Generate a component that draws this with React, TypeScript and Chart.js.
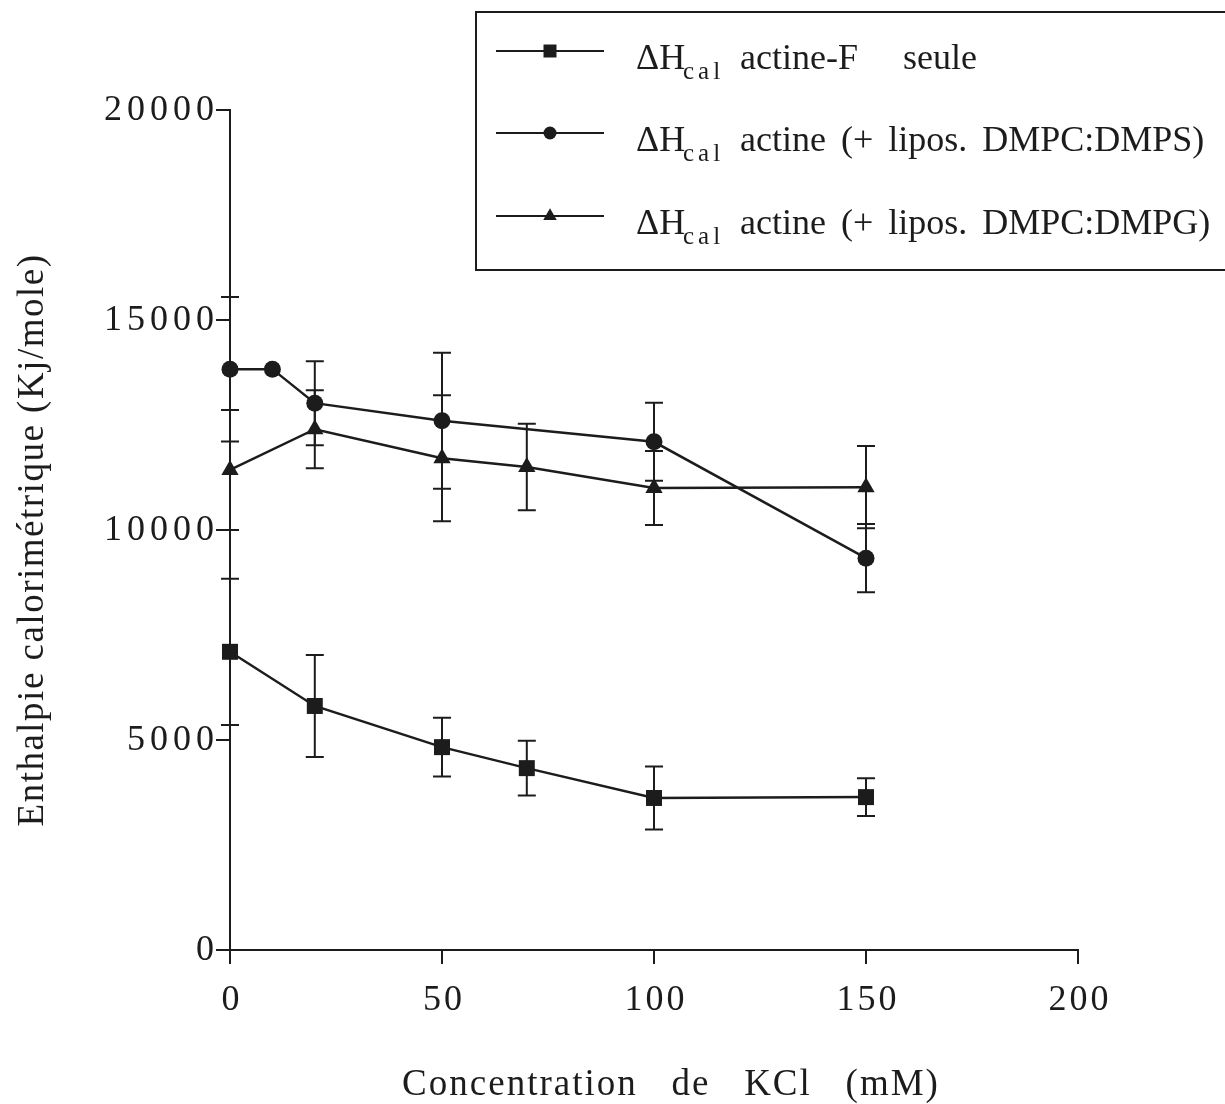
import React, { useEffect, useRef } from 'react';
import { Chart, registerables } from 'chart.js';

Chart.register(...registerables);

const FONT = '"Liberation Serif", "Times New Roman", Times, serif';
const INK = '#1c1c1c';

// Axis ticks
const xTickValues = [0, 50, 100, 150, 200];
const yTickValues = [0, 5000, 10000, 15000, 20000];

// Series: ΔHcal actine-F seule (squares)
const xSquare = [0, 20, 50, 70, 100, 150];
const ySquare = [7100, 5810, 4830, 4330, 3620, 3640];
const errSquare = [1740, 1215, 700, 650, 750, 450];

// Series: ΔHcal actine (+ lipos. DMPC:DMPS) (circles)
const xCircle = [0, 10, 20, 50, 100, 150];
const yCircle = [13830, 13830, 13020, 12600, 12100, 9330];
const errCircle = [1720, 0, 1000, 1620, 930, 810];

// Series: ΔHcal actine (+ lipos. DMPC:DMPG) (triangles)
const xTriangle = [0, 20, 50, 70, 100, 150];
const yTriangle = [11430, 12400, 11710, 11500, 11000, 11020];
const errTriangle = [1430, 930, 1500, 1030, 880, 980];

const legendMain = ['\u0394H', '\u0394H', '\u0394H'];
const legendSub = ['cal', 'cal', 'cal'];
const legendText = ['actine-F   seule', 'actine (+ lipos. DMPC:DMPS)', 'actine (+ lipos. DMPC:DMPG)'];
const legendStyles = ['rect', 'circle', 'triangle'];

const xTitle = 'Concentration   de   KCl   (mM)';
const yTitle = 'Enthalpie calorimétrique (Kj/mole)';

const toPoints = (xs: number[], ys: number[], es: number[]) =>
  xs.map((x, i) => ({ x, y: ys[i], err: es[i] }));

function drawMarker(ctx: CanvasRenderingContext2D, style: string, x: number, y: number, s: number) {
  ctx.beginPath();
  if (style === 'rect') {
    ctx.rect(x - s, y - s, 2 * s, 2 * s);
  } else if (style === 'circle') {
    ctx.arc(x, y, s, 0, Math.PI * 2);
  } else {
    const r = s * 1.2;
    ctx.moveTo(x, y - r);
    ctx.lineTo(x + r * 0.866, y + r * 0.5);
    ctx.lineTo(x - r * 0.866, y + r * 0.5);
    ctx.closePath();
  }
  ctx.fill();
}

const errorBars = {
  id: 'errorBars',
  beforeDatasetsDraw(chart: any) {
    const { ctx, scales } = chart;
    const xs = scales.x;
    const ys = scales.y;
    ctx.save();
    ctx.strokeStyle = INK;
    ctx.lineWidth = 2;
    chart.data.datasets.forEach((ds: any) => {
      ds.data.forEach((p: any) => {
        if (!p.err) return;
        const px = xs.getPixelForValue(p.x);
        const top = ys.getPixelForValue(p.y + p.err);
        const bot = ys.getPixelForValue(p.y - p.err);
        ctx.beginPath();
        ctx.moveTo(px, top);
        ctx.lineTo(px, bot);
        ctx.moveTo(px - 9, top);
        ctx.lineTo(px + 9, top);
        ctx.moveTo(px - 9, bot);
        ctx.lineTo(px + 9, bot);
        ctx.stroke();
      });
    });
    ctx.restore();
  },
};

const decorations = {
  id: 'decorations',
  afterDraw(chart: any) {
    const { ctx, scales, chartArea } = chart;
    const xs = scales.x;
    const ys = scales.y;
    const c = ctx as any;
    ctx.save();
    ctx.fillStyle = INK;
    ctx.strokeStyle = INK;

    // y tick labels
    ctx.font = `36px ${FONT}`;
    c.letterSpacing = '5px';
    ctx.textAlign = 'right';
    ctx.textBaseline = 'middle';
    yTickValues.forEach((v) => {
      ctx.fillText(String(v), chartArea.left - 16 + 5, ys.getPixelForValue(v) + 1);
    });

    // x tick labels
    c.letterSpacing = '3px';
    ctx.textAlign = 'center';
    ctx.textBaseline = 'alphabetic';
    xTickValues.forEach((v) => {
      ctx.fillText(String(v), xs.getPixelForValue(v) + 2, 1010);
    });

    // x title
    ctx.font = `37px ${FONT}`;
    c.letterSpacing = '2px';
    ctx.textAlign = 'center';
    ctx.fillText(xTitle, 671, 1095);

    // y title
    ctx.save();
    ctx.translate(33, 540);
    ctx.rotate(-Math.PI / 2);
    ctx.font = `37px ${FONT}`;
    c.letterSpacing = '1.5px';
    ctx.textAlign = 'center';
    ctx.textBaseline = 'middle';
    ctx.fillText(yTitle, 0, 0);
    ctx.restore();

    // legend box
    c.letterSpacing = '0px';
    ctx.lineWidth = 2;
    ctx.strokeRect(476, 12, 760, 258);

    const rowY = [51, 133, 216];
    rowY.forEach((yy, i) => {
      ctx.lineWidth = 2;
      ctx.beginPath();
      ctx.moveTo(496, yy);
      ctx.lineTo(604, yy);
      ctx.stroke();
      drawMarker(ctx, legendStyles[i], 550, yy, 6.5);
      ctx.textAlign = 'left';
      ctx.textBaseline = 'alphabetic';
      ctx.font = `36px ${FONT}`;
      c.letterSpacing = '0px';
      c.wordSpacing = '0px';
      ctx.fillText(legendMain[i], 636, yy + 18);
      ctx.font = `25px ${FONT}`;
      c.letterSpacing = '4px';
      ctx.fillText(legendSub[i], 683, yy + 28);
      ctx.font = `36px ${FONT}`;
      c.letterSpacing = '0px';
      c.wordSpacing = '6px';
      ctx.fillText(legendText[i], 740, yy + 18);
      c.wordSpacing = '0px';
    });
    ctx.restore();
  },
};

export default function App() {
  const ref = useRef<HTMLCanvasElement | null>(null);

  useEffect(() => {
    if (!ref.current) return;
    const common = {
      borderColor: INK,
      backgroundColor: INK,
      pointBackgroundColor: INK,
      pointBorderColor: INK,
      pointBorderWidth: 0,
      borderWidth: 2.5,
      showLine: true,
      tension: 0,
      clip: false as any,
    };
    const chart = new Chart(ref.current, {
      type: 'line',
      data: {
        datasets: [
          {
            ...common,
            label: 'ΔHcal actine-F seule',
            data: toPoints(xSquare, ySquare, errSquare),
            pointStyle: 'rect',
            pointRadius: 11.3,
          },
          {
            ...common,
            label: 'ΔHcal actine (+ lipos. DMPC:DMPS)',
            data: toPoints(xCircle, yCircle, errCircle),
            pointStyle: 'circle',
            pointRadius: 8.5,
          },
          {
            ...common,
            label: 'ΔHcal actine (+ lipos. DMPC:DMPG)',
            data: toPoints(xTriangle, yTriangle, errTriangle),
            pointStyle: 'triangle',
            pointRadius: 10,
          },
        ] as any,
      },
      options: {
        animation: false,
        responsive: false,
        maintainAspectRatio: false,
        layout: { padding: { left: 0, top: 110, right: 147, bottom: 0 } },
        plugins: {
          legend: { display: false },
          tooltip: { enabled: false },
          title: { display: false },
        },
        scales: {
          x: {
            type: 'linear',
            min: 0,
            max: 200,
            afterBuildTicks: (s: any) => {
              s.ticks = xTickValues.map((v) => ({ value: v }));
            },
            afterFit: (s: any) => {
              s.height = 154;
            },
            ticks: { display: false },
            grid: {
              display: true,
              drawOnChartArea: false,
              drawTicks: true,
              tickLength: 14,
              color: INK,
              lineWidth: 2,
            },
            border: { display: true, color: INK, width: 2 },
          },
          y: {
            type: 'linear',
            min: 0,
            max: 20000,
            afterBuildTicks: (s: any) => {
              s.ticks = yTickValues.map((v) => ({ value: v }));
            },
            afterFit: (s: any) => {
              s.width = 230;
            },
            ticks: { display: false },
            grid: {
              display: true,
              drawOnChartArea: false,
              drawTicks: true,
              tickLength: 14,
              color: INK,
              lineWidth: 2,
            },
            border: { display: true, color: INK, width: 2 },
          },
        },
      } as any,
      plugins: [errorBars, decorations],
    });
    return () => chart.destroy();
  }, []);

  return (
    <div style={{ position: 'absolute', left: 0, top: 0, width: 1225, height: 1104, background: '#fff' }}>
      <canvas ref={ref} width={1225} height={1104} style={{ display: 'block', width: 1225, height: 1104 }} />
    </div>
  );
}
